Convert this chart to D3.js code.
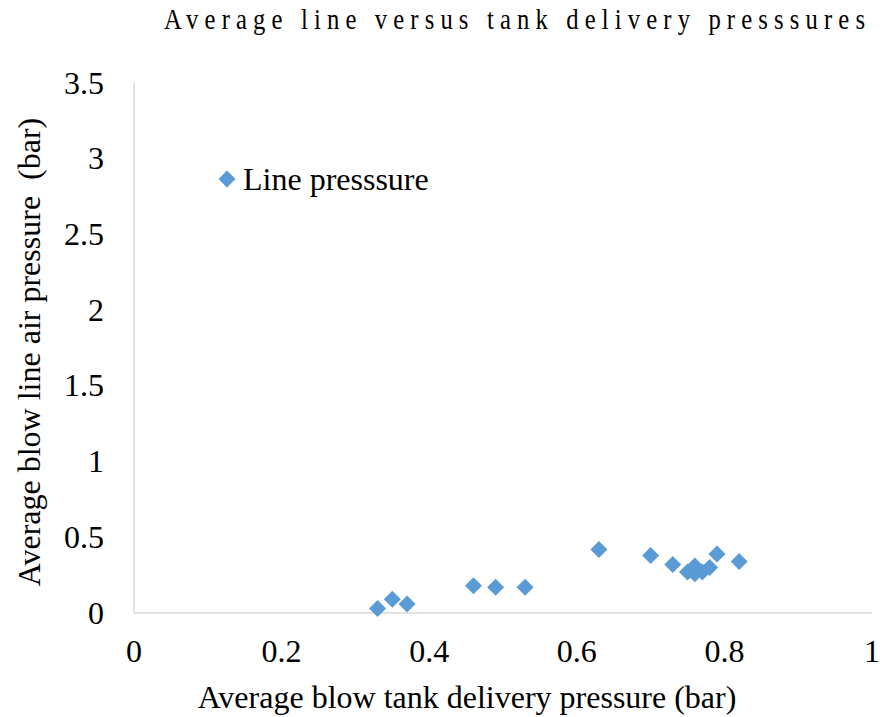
<!DOCTYPE html>
<html>
<head>
<meta charset="utf-8">
<script src="https://cdn.jsdelivr.net/npm/d3@7"></script>
<style>
  html, body { margin: 0; padding: 0; background: #fff; }
  text { font-family: "Liberation Serif", "Times New Roman", serif; fill: #000; }
</style>
</head>
<body>
<svg id="chart" width="880" height="717"></svg>
<script>
// Blow tank delivery pressure (bar) and the matching line air pressure (bar)
const tankPressure = [0.33, 0.35, 0.37, 0.46, 0.49, 0.53, 0.63, 0.70, 0.73, 0.75, 0.76, 0.76, 0.77, 0.78, 0.79, 0.82];
const linePressure = [0.03, 0.09, 0.06, 0.18, 0.17, 0.17, 0.42, 0.38, 0.32, 0.27, 0.31, 0.26, 0.27, 0.30, 0.39, 0.34];
const xTicks = [0, 0.2, 0.4, 0.6, 0.8, 1];
const yTicks = [0, 0.5, 1, 1.5, 2, 2.5, 3, 3.5];
const seriesName = "Line presssure";
const chartTitle = "Average line versus tank delivery presssures";
const xTitle = "Average blow tank delivery pressure (bar)";
const yTitle = "Average blow line air pressure  (bar)";

const svg = d3.select("#chart");
const plot = { left: 134, right: 872, top: 83, bottom: 613 };
const labelSize = 32;

const x = d3.scaleLinear().domain([0, 1]).range([plot.left, plot.right]);
const y = d3.scaleLinear().domain([0, 3.5]).range([plot.bottom, plot.top]);

// Axis lines
svg.append("line")
  .attr("x1", plot.left).attr("x2", plot.left)
  .attr("y1", plot.top).attr("y2", plot.bottom)
  .attr("stroke", "#d9d9d9").attr("stroke-width", 1.5);
svg.append("line")
  .attr("x1", plot.left).attr("x2", plot.right)
  .attr("y1", plot.bottom).attr("y2", plot.bottom)
  .attr("stroke", "#d9d9d9").attr("stroke-width", 1.5);

// Tick labels
const fmt = d => d3.format("~g")(d);
svg.append("g").selectAll("text").data(yTicks).join("text")
  .attr("x", 104).attr("y", d => y(d))
  .attr("dy", "0.33em")
  .attr("text-anchor", "end")
  .attr("font-size", labelSize)
  .text(fmt);

svg.append("g").selectAll("text").data(xTicks).join("text")
  .attr("x", d => x(d)).attr("y", 662)
  .attr("text-anchor", "middle")
  .attr("font-size", labelSize)
  .text(fmt);

// Axis titles
svg.append("text")
  .attr("x", 467).attr("y", 708)
  .attr("text-anchor", "middle")
  .attr("font-size", labelSize)
  .text(xTitle);

svg.append("text")
  .attr("transform", "translate(40,352) rotate(-90)")
  .attr("text-anchor", "middle")
  .attr("font-size", labelSize)
  .attr("xml:space", "preserve")
  .style("white-space", "pre")
  .text(yTitle);

// Chart title: slightly narrow, tracked lettering spanning the top
const titleScaleX = 0.85;
const titleWidth = 701;
const title = svg.append("text")
  .attr("transform", `translate(164,29) scale(${titleScaleX},1)`)
  .attr("font-size", 29)
  .text(chartTitle);
const natural = title.node().getComputedTextLength();
const spacing = (titleWidth / titleScaleX - natural) / (chartTitle.length - 1);
title.style("letter-spacing", spacing + "px");

// Diamond marker
const diamond = s => `M0,${-s}L${s},0L0,${s}L${-s},0Z`;
const markerColor = "#5b9bd5";

svg.append("g").selectAll("path")
  .data(tankPressure.map((t, i) => [t, linePressure[i]]))
  .join("path")
  .attr("transform", d => `translate(${x(d[0])},${y(d[1])})`)
  .attr("d", diamond(8.5))
  .attr("fill", markerColor);

// Legend
svg.append("path")
  .attr("transform", "translate(227,179)")
  .attr("d", diamond(8.5))
  .attr("fill", markerColor);
svg.append("text")
  .attr("x", 243).attr("y", 190)
  .attr("font-size", labelSize)
  .text(seriesName);
</script>
</body>
</html>
